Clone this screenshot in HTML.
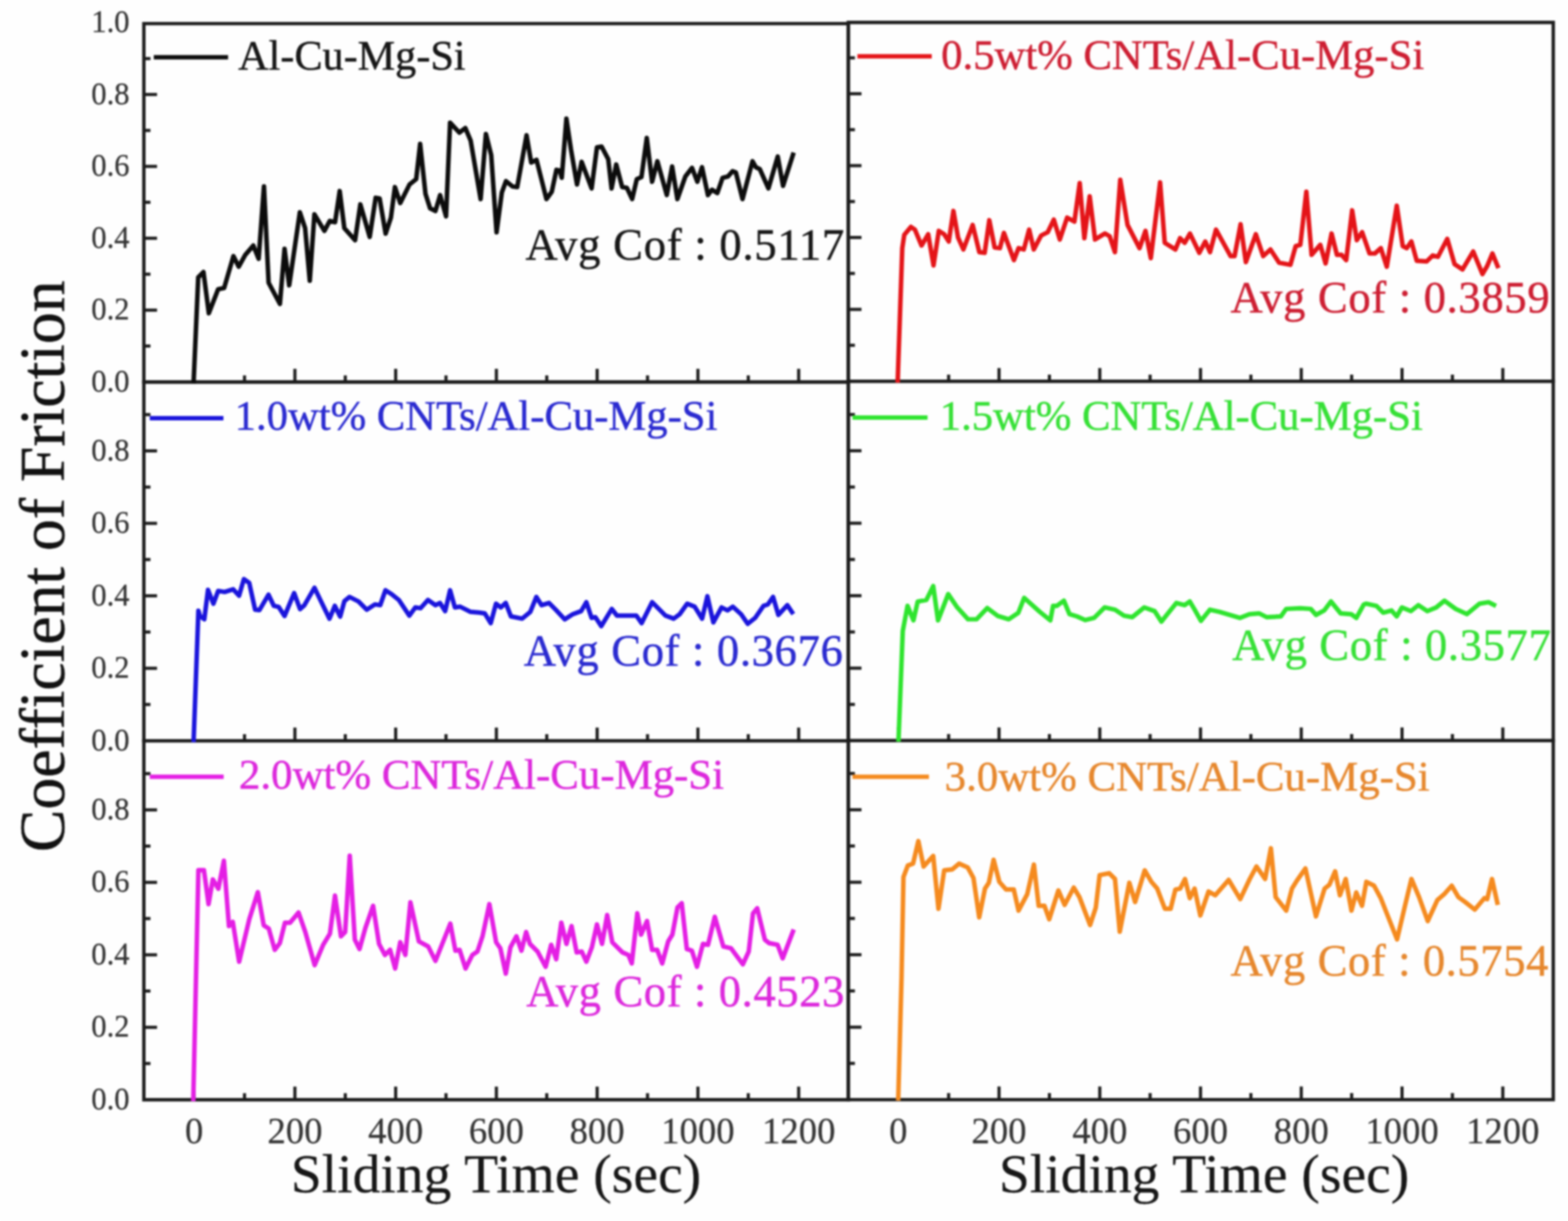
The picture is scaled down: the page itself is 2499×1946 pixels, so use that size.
<!DOCTYPE html><html><head><meta charset="utf-8"><style>html,body{margin:0;padding:0;background:#fff;}svg{display:block;filter:blur(1.5px)}text{font-family:'Liberation Serif','Times New Roman',serif}</style></head><body>
<svg xmlns="http://www.w3.org/2000/svg" width="2499" height="1946" viewBox="0 0 2499 1946">
<rect width="2499" height="1946" fill="#fefefe"/>
<path d="M229.3,37.6 L1352.0,37.6 L1352.0,608.8 L229.3,608.8 Z" fill="none" stroke="#1c1c1c" stroke-width="5.4" stroke-linejoin="miter"/>
<line x1="309.4" y1="608.8" x2="309.4" y2="587.8" stroke="#1c1c1c" stroke-width="5"/>
<line x1="389.7" y1="608.8" x2="389.7" y2="598.3" stroke="#1c1c1c" stroke-width="5"/>
<line x1="470.0" y1="608.8" x2="470.0" y2="587.8" stroke="#1c1c1c" stroke-width="5"/>
<line x1="550.3" y1="608.8" x2="550.3" y2="598.3" stroke="#1c1c1c" stroke-width="5"/>
<line x1="630.6" y1="608.8" x2="630.6" y2="587.8" stroke="#1c1c1c" stroke-width="5"/>
<line x1="710.8" y1="608.8" x2="710.8" y2="598.3" stroke="#1c1c1c" stroke-width="5"/>
<line x1="791.1" y1="608.8" x2="791.1" y2="587.8" stroke="#1c1c1c" stroke-width="5"/>
<line x1="871.4" y1="608.8" x2="871.4" y2="598.3" stroke="#1c1c1c" stroke-width="5"/>
<line x1="951.7" y1="608.8" x2="951.7" y2="587.8" stroke="#1c1c1c" stroke-width="5"/>
<line x1="1032.0" y1="608.8" x2="1032.0" y2="598.3" stroke="#1c1c1c" stroke-width="5"/>
<line x1="1112.3" y1="608.8" x2="1112.3" y2="587.8" stroke="#1c1c1c" stroke-width="5"/>
<line x1="1192.6" y1="608.8" x2="1192.6" y2="598.3" stroke="#1c1c1c" stroke-width="5"/>
<line x1="1272.9" y1="608.8" x2="1272.9" y2="587.8" stroke="#1c1c1c" stroke-width="5"/>
<line x1="229.3" y1="551.5" x2="239.8" y2="551.5" stroke="#1c1c1c" stroke-width="5"/>
<line x1="229.3" y1="494.3" x2="250.3" y2="494.3" stroke="#1c1c1c" stroke-width="5"/>
<line x1="229.3" y1="437.0" x2="239.8" y2="437.0" stroke="#1c1c1c" stroke-width="5"/>
<line x1="229.3" y1="379.7" x2="250.3" y2="379.7" stroke="#1c1c1c" stroke-width="5"/>
<line x1="229.3" y1="322.4" x2="239.8" y2="322.4" stroke="#1c1c1c" stroke-width="5"/>
<line x1="229.3" y1="265.2" x2="250.3" y2="265.2" stroke="#1c1c1c" stroke-width="5"/>
<line x1="229.3" y1="207.9" x2="239.8" y2="207.9" stroke="#1c1c1c" stroke-width="5"/>
<line x1="229.3" y1="150.6" x2="250.3" y2="150.6" stroke="#1c1c1c" stroke-width="5"/>
<line x1="229.3" y1="93.4" x2="239.8" y2="93.4" stroke="#1c1c1c" stroke-width="5"/>
<path d="M1352.0,35.8 L2475.5,35.8 L2475.5,607.6 L1352.0,607.6 Z" fill="none" stroke="#1c1c1c" stroke-width="5.4" stroke-linejoin="miter"/>
<line x1="1431.6" y1="607.6" x2="1431.6" y2="586.6" stroke="#1c1c1c" stroke-width="5"/>
<line x1="1511.9" y1="607.6" x2="1511.9" y2="597.1" stroke="#1c1c1c" stroke-width="5"/>
<line x1="1592.2" y1="607.6" x2="1592.2" y2="586.6" stroke="#1c1c1c" stroke-width="5"/>
<line x1="1672.5" y1="607.6" x2="1672.5" y2="597.1" stroke="#1c1c1c" stroke-width="5"/>
<line x1="1752.8" y1="607.6" x2="1752.8" y2="586.6" stroke="#1c1c1c" stroke-width="5"/>
<line x1="1833.0" y1="607.6" x2="1833.0" y2="597.1" stroke="#1c1c1c" stroke-width="5"/>
<line x1="1913.3" y1="607.6" x2="1913.3" y2="586.6" stroke="#1c1c1c" stroke-width="5"/>
<line x1="1993.6" y1="607.6" x2="1993.6" y2="597.1" stroke="#1c1c1c" stroke-width="5"/>
<line x1="2073.9" y1="607.6" x2="2073.9" y2="586.6" stroke="#1c1c1c" stroke-width="5"/>
<line x1="2154.2" y1="607.6" x2="2154.2" y2="597.1" stroke="#1c1c1c" stroke-width="5"/>
<line x1="2234.5" y1="607.6" x2="2234.5" y2="586.6" stroke="#1c1c1c" stroke-width="5"/>
<line x1="2314.8" y1="607.6" x2="2314.8" y2="597.1" stroke="#1c1c1c" stroke-width="5"/>
<line x1="2395.1" y1="607.6" x2="2395.1" y2="586.6" stroke="#1c1c1c" stroke-width="5"/>
<line x1="1352.0" y1="550.3" x2="1362.5" y2="550.3" stroke="#1c1c1c" stroke-width="5"/>
<line x1="1352.0" y1="493.1" x2="1373.0" y2="493.1" stroke="#1c1c1c" stroke-width="5"/>
<line x1="1352.0" y1="435.8" x2="1362.5" y2="435.8" stroke="#1c1c1c" stroke-width="5"/>
<line x1="1352.0" y1="378.5" x2="1373.0" y2="378.5" stroke="#1c1c1c" stroke-width="5"/>
<line x1="1352.0" y1="321.2" x2="1362.5" y2="321.2" stroke="#1c1c1c" stroke-width="5"/>
<line x1="1352.0" y1="264.0" x2="1373.0" y2="264.0" stroke="#1c1c1c" stroke-width="5"/>
<line x1="1352.0" y1="206.7" x2="1362.5" y2="206.7" stroke="#1c1c1c" stroke-width="5"/>
<line x1="1352.0" y1="149.4" x2="1373.0" y2="149.4" stroke="#1c1c1c" stroke-width="5"/>
<line x1="1352.0" y1="92.2" x2="1362.5" y2="92.2" stroke="#1c1c1c" stroke-width="5"/>
<path d="M229.3,608.8 L1352.0,608.8 L1352.0,1180.6 L229.3,1180.6 Z" fill="none" stroke="#1c1c1c" stroke-width="5.4" stroke-linejoin="miter"/>
<line x1="309.4" y1="1180.6" x2="309.4" y2="1159.6" stroke="#1c1c1c" stroke-width="5"/>
<line x1="389.7" y1="1180.6" x2="389.7" y2="1170.1" stroke="#1c1c1c" stroke-width="5"/>
<line x1="470.0" y1="1180.6" x2="470.0" y2="1159.6" stroke="#1c1c1c" stroke-width="5"/>
<line x1="550.3" y1="1180.6" x2="550.3" y2="1170.1" stroke="#1c1c1c" stroke-width="5"/>
<line x1="630.6" y1="1180.6" x2="630.6" y2="1159.6" stroke="#1c1c1c" stroke-width="5"/>
<line x1="710.8" y1="1180.6" x2="710.8" y2="1170.1" stroke="#1c1c1c" stroke-width="5"/>
<line x1="791.1" y1="1180.6" x2="791.1" y2="1159.6" stroke="#1c1c1c" stroke-width="5"/>
<line x1="871.4" y1="1180.6" x2="871.4" y2="1170.1" stroke="#1c1c1c" stroke-width="5"/>
<line x1="951.7" y1="1180.6" x2="951.7" y2="1159.6" stroke="#1c1c1c" stroke-width="5"/>
<line x1="1032.0" y1="1180.6" x2="1032.0" y2="1170.1" stroke="#1c1c1c" stroke-width="5"/>
<line x1="1112.3" y1="1180.6" x2="1112.3" y2="1159.6" stroke="#1c1c1c" stroke-width="5"/>
<line x1="1192.6" y1="1180.6" x2="1192.6" y2="1170.1" stroke="#1c1c1c" stroke-width="5"/>
<line x1="1272.9" y1="1180.6" x2="1272.9" y2="1159.6" stroke="#1c1c1c" stroke-width="5"/>
<line x1="229.3" y1="1122.8" x2="239.8" y2="1122.8" stroke="#1c1c1c" stroke-width="5"/>
<line x1="229.3" y1="1065.1" x2="250.3" y2="1065.1" stroke="#1c1c1c" stroke-width="5"/>
<line x1="229.3" y1="1007.3" x2="239.8" y2="1007.3" stroke="#1c1c1c" stroke-width="5"/>
<line x1="229.3" y1="949.6" x2="250.3" y2="949.6" stroke="#1c1c1c" stroke-width="5"/>
<line x1="229.3" y1="891.8" x2="239.8" y2="891.8" stroke="#1c1c1c" stroke-width="5"/>
<line x1="229.3" y1="834.1" x2="250.3" y2="834.1" stroke="#1c1c1c" stroke-width="5"/>
<line x1="229.3" y1="776.3" x2="239.8" y2="776.3" stroke="#1c1c1c" stroke-width="5"/>
<line x1="229.3" y1="718.6" x2="250.3" y2="718.6" stroke="#1c1c1c" stroke-width="5"/>
<line x1="229.3" y1="660.8" x2="239.8" y2="660.8" stroke="#1c1c1c" stroke-width="5"/>
<path d="M1352.0,607.6 L2475.5,607.6 L2475.5,1180.4 L1352.0,1180.4 Z" fill="none" stroke="#1c1c1c" stroke-width="5.4" stroke-linejoin="miter"/>
<line x1="1431.6" y1="1180.4" x2="1431.6" y2="1159.4" stroke="#1c1c1c" stroke-width="5"/>
<line x1="1511.9" y1="1180.4" x2="1511.9" y2="1169.9" stroke="#1c1c1c" stroke-width="5"/>
<line x1="1592.2" y1="1180.4" x2="1592.2" y2="1159.4" stroke="#1c1c1c" stroke-width="5"/>
<line x1="1672.5" y1="1180.4" x2="1672.5" y2="1169.9" stroke="#1c1c1c" stroke-width="5"/>
<line x1="1752.8" y1="1180.4" x2="1752.8" y2="1159.4" stroke="#1c1c1c" stroke-width="5"/>
<line x1="1833.0" y1="1180.4" x2="1833.0" y2="1169.9" stroke="#1c1c1c" stroke-width="5"/>
<line x1="1913.3" y1="1180.4" x2="1913.3" y2="1159.4" stroke="#1c1c1c" stroke-width="5"/>
<line x1="1993.6" y1="1180.4" x2="1993.6" y2="1169.9" stroke="#1c1c1c" stroke-width="5"/>
<line x1="2073.9" y1="1180.4" x2="2073.9" y2="1159.4" stroke="#1c1c1c" stroke-width="5"/>
<line x1="2154.2" y1="1180.4" x2="2154.2" y2="1169.9" stroke="#1c1c1c" stroke-width="5"/>
<line x1="2234.5" y1="1180.4" x2="2234.5" y2="1159.4" stroke="#1c1c1c" stroke-width="5"/>
<line x1="2314.8" y1="1180.4" x2="2314.8" y2="1169.9" stroke="#1c1c1c" stroke-width="5"/>
<line x1="2395.1" y1="1180.4" x2="2395.1" y2="1159.4" stroke="#1c1c1c" stroke-width="5"/>
<line x1="1352.0" y1="1122.7" x2="1362.5" y2="1122.7" stroke="#1c1c1c" stroke-width="5"/>
<line x1="1352.0" y1="1064.9" x2="1373.0" y2="1064.9" stroke="#1c1c1c" stroke-width="5"/>
<line x1="1352.0" y1="1007.2" x2="1362.5" y2="1007.2" stroke="#1c1c1c" stroke-width="5"/>
<line x1="1352.0" y1="949.4" x2="1373.0" y2="949.4" stroke="#1c1c1c" stroke-width="5"/>
<line x1="1352.0" y1="891.7" x2="1362.5" y2="891.7" stroke="#1c1c1c" stroke-width="5"/>
<line x1="1352.0" y1="833.9" x2="1373.0" y2="833.9" stroke="#1c1c1c" stroke-width="5"/>
<line x1="1352.0" y1="776.2" x2="1362.5" y2="776.2" stroke="#1c1c1c" stroke-width="5"/>
<line x1="1352.0" y1="718.4" x2="1373.0" y2="718.4" stroke="#1c1c1c" stroke-width="5"/>
<line x1="1352.0" y1="660.7" x2="1362.5" y2="660.7" stroke="#1c1c1c" stroke-width="5"/>
<path d="M229.3,1180.6 L1352.0,1180.6 L1352.0,1752.8 L229.3,1752.8 Z" fill="none" stroke="#1c1c1c" stroke-width="5.4" stroke-linejoin="miter"/>
<line x1="309.4" y1="1752.8" x2="309.4" y2="1731.8" stroke="#1c1c1c" stroke-width="5"/>
<line x1="389.7" y1="1752.8" x2="389.7" y2="1742.3" stroke="#1c1c1c" stroke-width="5"/>
<line x1="470.0" y1="1752.8" x2="470.0" y2="1731.8" stroke="#1c1c1c" stroke-width="5"/>
<line x1="550.3" y1="1752.8" x2="550.3" y2="1742.3" stroke="#1c1c1c" stroke-width="5"/>
<line x1="630.6" y1="1752.8" x2="630.6" y2="1731.8" stroke="#1c1c1c" stroke-width="5"/>
<line x1="710.8" y1="1752.8" x2="710.8" y2="1742.3" stroke="#1c1c1c" stroke-width="5"/>
<line x1="791.1" y1="1752.8" x2="791.1" y2="1731.8" stroke="#1c1c1c" stroke-width="5"/>
<line x1="871.4" y1="1752.8" x2="871.4" y2="1742.3" stroke="#1c1c1c" stroke-width="5"/>
<line x1="951.7" y1="1752.8" x2="951.7" y2="1731.8" stroke="#1c1c1c" stroke-width="5"/>
<line x1="1032.0" y1="1752.8" x2="1032.0" y2="1742.3" stroke="#1c1c1c" stroke-width="5"/>
<line x1="1112.3" y1="1752.8" x2="1112.3" y2="1731.8" stroke="#1c1c1c" stroke-width="5"/>
<line x1="1192.6" y1="1752.8" x2="1192.6" y2="1742.3" stroke="#1c1c1c" stroke-width="5"/>
<line x1="1272.9" y1="1752.8" x2="1272.9" y2="1731.8" stroke="#1c1c1c" stroke-width="5"/>
<line x1="229.3" y1="1695.0" x2="239.8" y2="1695.0" stroke="#1c1c1c" stroke-width="5"/>
<line x1="229.3" y1="1637.3" x2="250.3" y2="1637.3" stroke="#1c1c1c" stroke-width="5"/>
<line x1="229.3" y1="1579.5" x2="239.8" y2="1579.5" stroke="#1c1c1c" stroke-width="5"/>
<line x1="229.3" y1="1521.8" x2="250.3" y2="1521.8" stroke="#1c1c1c" stroke-width="5"/>
<line x1="229.3" y1="1464.0" x2="239.8" y2="1464.0" stroke="#1c1c1c" stroke-width="5"/>
<line x1="229.3" y1="1406.3" x2="250.3" y2="1406.3" stroke="#1c1c1c" stroke-width="5"/>
<line x1="229.3" y1="1348.5" x2="239.8" y2="1348.5" stroke="#1c1c1c" stroke-width="5"/>
<line x1="229.3" y1="1290.8" x2="250.3" y2="1290.8" stroke="#1c1c1c" stroke-width="5"/>
<line x1="229.3" y1="1233.0" x2="239.8" y2="1233.0" stroke="#1c1c1c" stroke-width="5"/>
<path d="M1352.0,1180.4 L2475.5,1180.4 L2475.5,1752.6 L1352.0,1752.6 Z" fill="none" stroke="#1c1c1c" stroke-width="5.4" stroke-linejoin="miter"/>
<line x1="1431.6" y1="1752.6" x2="1431.6" y2="1731.6" stroke="#1c1c1c" stroke-width="5"/>
<line x1="1511.9" y1="1752.6" x2="1511.9" y2="1742.1" stroke="#1c1c1c" stroke-width="5"/>
<line x1="1592.2" y1="1752.6" x2="1592.2" y2="1731.6" stroke="#1c1c1c" stroke-width="5"/>
<line x1="1672.5" y1="1752.6" x2="1672.5" y2="1742.1" stroke="#1c1c1c" stroke-width="5"/>
<line x1="1752.8" y1="1752.6" x2="1752.8" y2="1731.6" stroke="#1c1c1c" stroke-width="5"/>
<line x1="1833.0" y1="1752.6" x2="1833.0" y2="1742.1" stroke="#1c1c1c" stroke-width="5"/>
<line x1="1913.3" y1="1752.6" x2="1913.3" y2="1731.6" stroke="#1c1c1c" stroke-width="5"/>
<line x1="1993.6" y1="1752.6" x2="1993.6" y2="1742.1" stroke="#1c1c1c" stroke-width="5"/>
<line x1="2073.9" y1="1752.6" x2="2073.9" y2="1731.6" stroke="#1c1c1c" stroke-width="5"/>
<line x1="2154.2" y1="1752.6" x2="2154.2" y2="1742.1" stroke="#1c1c1c" stroke-width="5"/>
<line x1="2234.5" y1="1752.6" x2="2234.5" y2="1731.6" stroke="#1c1c1c" stroke-width="5"/>
<line x1="2314.8" y1="1752.6" x2="2314.8" y2="1742.1" stroke="#1c1c1c" stroke-width="5"/>
<line x1="2395.1" y1="1752.6" x2="2395.1" y2="1731.6" stroke="#1c1c1c" stroke-width="5"/>
<line x1="1352.0" y1="1694.8" x2="1362.5" y2="1694.8" stroke="#1c1c1c" stroke-width="5"/>
<line x1="1352.0" y1="1637.1" x2="1373.0" y2="1637.1" stroke="#1c1c1c" stroke-width="5"/>
<line x1="1352.0" y1="1579.3" x2="1362.5" y2="1579.3" stroke="#1c1c1c" stroke-width="5"/>
<line x1="1352.0" y1="1521.6" x2="1373.0" y2="1521.6" stroke="#1c1c1c" stroke-width="5"/>
<line x1="1352.0" y1="1463.8" x2="1362.5" y2="1463.8" stroke="#1c1c1c" stroke-width="5"/>
<line x1="1352.0" y1="1406.1" x2="1373.0" y2="1406.1" stroke="#1c1c1c" stroke-width="5"/>
<line x1="1352.0" y1="1348.3" x2="1362.5" y2="1348.3" stroke="#1c1c1c" stroke-width="5"/>
<line x1="1352.0" y1="1290.6" x2="1373.0" y2="1290.6" stroke="#1c1c1c" stroke-width="5"/>
<line x1="1352.0" y1="1232.8" x2="1362.5" y2="1232.8" stroke="#1c1c1c" stroke-width="5"/>
<path d="M308.5,611.0 L315.9,442.1 L324.3,433.6 L332.8,499.3 L347.6,461.1 L357.2,459.0 L372.0,408.2 L380.5,425.1 L391.0,406.1 L403.7,391.3 L412.2,412.4 L420.7,297.1 L428.1,450.6 L446.1,484.4 L453.5,396.6 L460.9,454.8 L477.9,338.3 L486.3,363.7 L493.7,447.4 L501.1,341.5 L517.0,368.0 L525.5,352.1 L534.0,354.2 L541.4,304.5 L548.8,363.7 L565.9,382.9 L574.3,325.7 L589.2,377.6 L598.7,315.2 L605.0,316.2 L614.6,372.3 L623.0,346.9 L629.4,298.2 L637.9,323.6 L652.7,294.0 L663.3,285.5 L669.6,229.4 L678.1,308.8 L685.5,332.1 L694.0,336.3 L701.4,310.9 L710.9,344.8 L717.3,195.5 L732.1,211.4 L741.6,204.0 L750.1,224.1 L766.0,317.3 L774.4,213.5 L782.9,247.4 L791.4,370.2 L799.8,306.7 L806.4,288.7 L816.9,297.2 L824.3,298.2 L839.2,215.6 L846.6,259.0 L855.1,254.8 L870.9,317.3 L879.4,305.6 L886.8,270.7 L892.1,271.7 L895.3,283.4 L902.7,189.2 L910.1,238.9 L919.6,294.0 L927.0,258.0 L942.9,300.3 L951.4,234.7 L958.8,233.6 L969.4,253.7 L974.7,300.3 L982.1,262.2 L991.6,298.2 L999.0,299.3 L1007.5,317.3 L1014.9,285.5 L1022.3,282.3 L1030.8,219.9 L1039.3,289.7 L1047.7,256.9 L1062.7,310.9 L1071.2,265.4 L1079.6,317.3 L1092.3,281.3 L1102.9,267.5 L1111.4,289.7 L1118.8,266.5 L1128.3,310.9 L1134.7,302.4 L1143.2,307.7 L1151.6,283.4 L1160.1,281.3 L1167.5,272.8 L1172.8,274.9 L1183.4,317.3 L1199.3,256.9 L1204.6,266.5 L1210.9,269.6 L1224.7,300.3 L1239.5,249.5 L1248.0,296.1 L1264.9,243.2" fill="none" stroke="#0c0c0c" stroke-width="7.2" stroke-linejoin="round" stroke-linecap="butt"/>
<path d="M1430.6,609.8 L1438.0,395.5 L1441.2,374.3 L1451.8,361.6 L1458.1,365.9 L1468.7,391.3 L1479.3,373.3 L1487.8,423.0 L1496.2,368.0 L1504.7,373.3 L1512.1,384.9 L1519.5,336.2 L1526.9,378.6 L1535.4,397.6 L1550.2,358.5 L1560.8,401.9 L1569.3,402.9 L1576.7,351.0 L1585.2,394.5 L1593.6,395.5 L1600.0,371.2 L1615.9,414.6 L1623.3,395.5 L1631.7,397.6 L1640.2,365.9 L1647.6,397.6 L1659.3,375.4 L1669.8,370.1 L1679.5,350.0 L1689.1,381.7 L1700.7,346.8 L1712.3,353.2 L1720.8,291.8 L1728.2,379.6 L1736.7,312.9 L1745.2,381.7 L1761.0,372.2 L1768.5,376.5 L1776.9,401.9 L1785.4,286.5 L1797.0,358.5 L1816.1,395.5 L1825.6,368.0 L1834.1,411.4 L1848.9,290.7 L1856.3,387.0 L1873.3,397.6 L1880.7,379.6 L1888.1,387.0 L1896.5,372.2 L1911.4,402.9 L1920.9,384.9 L1928.5,401.9 L1938.0,365.9 L1961.3,408.2 L1967.6,408.2 L1977.2,357.4 L1985.6,417.7 L2001.5,373.3 L2013.2,408.2 L2024.8,397.6 L2038.6,418.8 L2056.6,422.0 L2065.0,392.3 L2072.4,390.2 L2082.0,305.5 L2090.4,406.1 L2104.2,390.2 L2112.7,419.9 L2122.2,372.2 L2130.7,406.1 L2138.1,406.1 L2145.5,414.6 L2155.0,335.2 L2162.4,382.8 L2170.9,370.1 L2182.7,404.0 L2191.2,404.0 L2200.7,395.5 L2210.2,425.1 L2226.1,327.8 L2235.6,392.3 L2242.0,395.5 L2249.4,384.9 L2257.9,415.6 L2273.7,416.7 L2283.3,407.2 L2291.7,409.3 L2306.6,380.7 L2318.2,420.9 L2330.9,429.4 L2347.9,400.8 L2362.7,436.8 L2370.1,424.1 L2378.6,404.0 L2388.1,427.3" fill="none" stroke="#e41418" stroke-width="7.2" stroke-linejoin="round" stroke-linecap="butt"/>
<path d="M308.5,1183.0 L316.2,973.3 L318.8,981.8 L325.6,987.0 L331.5,940.1 L340.1,962.2 L347.7,941.8 L358.0,943.5 L371.6,939.2 L381.0,949.4 L388.7,923.0 L397.2,929.0 L406.6,971.6 L413.4,972.5 L427.9,947.7 L436.4,965.6 L444.1,967.3 L453.5,981.8 L468.8,945.2 L478.2,970.8 L485.0,964.8 L501.2,936.7 L511.4,958.0 L525.1,986.1 L533.6,965.6 L542.1,982.7 L548.9,958.0 L557.1,951.4 L571.4,958.6 L584.5,971.7 L597.6,963.3 L606.0,964.5 L614.3,940.7 L623.8,946.7 L635.7,956.2 L652.4,981.2 L661.9,968.1 L670.2,969.3 L682.1,956.2 L694.0,964.5 L701.2,961.0 L709.5,974.0 L717.3,940.7 L725.0,968.1 L733.3,966.9 L750.0,975.2 L764.3,976.4 L772.6,977.6 L782.1,993.1 L790.5,962.1 L798.2,968.1 L806.0,961.0 L814.3,982.4 L832.1,986.0 L845.2,975.2 L854.8,951.4 L863.1,964.5 L875.0,961.0 L885.7,971.7 L900.0,987.1 L913.1,978.8 L926.2,974.0 L934.5,959.8 L942.9,984.8 L948.8,983.6 L958.3,997.9 L975.0,970.5 L983.3,981.2 L1014.3,981.2 L1022.6,993.1 L1039.3,959.8 L1060.7,981.2 L1073.8,986.0 L1083.3,978.8 L1095.2,962.1 L1107.1,966.9 L1119.0,986.0 L1127.4,950.2 L1136.9,991.9 L1150.0,968.1 L1159.5,972.9 L1167.9,966.9 L1181.0,978.8 L1191.7,994.3 L1203.6,984.8 L1216.7,965.7 L1223.8,963.3 L1232.1,951.4 L1240.5,980.0 L1254.8,964.5 L1264.3,978.8" fill="none" stroke="#1a14dc" stroke-width="7.2" stroke-linejoin="round" stroke-linecap="butt"/>
<path d="M1431.9,1182.1 L1438.8,1005.7 L1446.4,965.6 L1455.8,988.7 L1462.6,958.8 L1476.3,956.3 L1487.3,934.1 L1495.0,988.7 L1511.2,946.9 L1525.7,968.2 L1542.8,987.0 L1556.4,987.0 L1573.5,969.1 L1590.5,981.8 L1607.6,987.0 L1622.9,976.7 L1632.3,952.9 L1657.0,975.0 L1674.0,988.7 L1678.3,965.7 L1684.3,965.7 L1695.6,957.4 L1704.5,978.8 L1716.4,982.4 L1729.5,988.3 L1743.8,984.8 L1760.5,968.1 L1777.1,971.7 L1791.4,981.2 L1804.5,983.6 L1823.6,968.1 L1840.2,974.0 L1851.0,990.7 L1860.5,978.8 L1874.8,961.0 L1887.9,964.5 L1896.2,958.6 L1903.3,970.5 L1914.0,989.5 L1928.3,971.7 L1943.8,975.2 L1976.0,984.8 L1991.4,978.8 L2006.9,977.6 L2018.8,983.6 L2041.4,982.4 L2049.8,970.5 L2072.4,969.3 L2089.0,970.5 L2097.4,980.0 L2110.5,972.9 L2121.2,958.6 L2136.7,977.6 L2153.3,978.8 L2161.7,984.8 L2173.6,963.3 L2177.1,962.1 L2193.8,965.7 L2204.5,976.4 L2217.6,972.9 L2226.0,982.4 L2234.3,968.1 L2248.6,974.0 L2260.5,964.5 L2274.8,974.0 L2289.0,968.1 L2302.1,957.4 L2320.0,970.5 L2337.9,978.8 L2358.1,962.1 L2372.4,959.8 L2384.3,965.7" fill="none" stroke="#2ee42e" stroke-width="7.2" stroke-linejoin="round" stroke-linecap="butt"/>
<path d="M308.0,1755.1 L316.2,1386.8 L325.0,1386.8 L332.4,1440.9 L339.2,1401.7 L348.0,1416.5 L356.8,1371.9 L364.9,1476.0 L371.0,1469.3 L381.1,1532.8 L397.3,1465.2 L410.9,1421.9 L420.3,1474.7 L428.4,1480.1 L437.9,1513.9 L446.0,1503.1 L454.1,1470.6 L462.2,1470.6 L475.8,1454.4 L486.6,1485.5 L501.5,1538.2 L515.0,1505.8 L525.8,1488.2 L533.9,1427.4 L543.4,1492.3 L550.1,1485.5 L557.4,1363.8 L565.5,1497.7 L573.0,1512.5 L582.4,1478.7 L594.6,1443.6 L604.1,1504.4 L613.5,1522.0 L621.7,1513.9 L629.8,1543.6 L637.9,1501.7 L646.0,1522.0 L654.1,1438.2 L667.6,1500.4 L682.5,1508.5 L694.0,1531.5 L717.7,1472.0 L725.8,1515.2 L732.5,1513.9 L742.0,1543.6 L752.8,1522.0 L760.9,1516.6 L769.0,1492.2 L779.9,1440.9 L790.7,1501.7 L797.4,1511.2 L806.1,1551.7 L813.5,1509.8 L823.0,1492.2 L831.1,1515.2 L838.5,1485.5 L844.6,1504.4 L856.8,1516.6 L869.6,1540.9 L878.4,1505.8 L886.5,1528.8 L894.6,1470.6 L902.8,1504.4 L910.9,1476.0 L919.0,1517.9 L927.1,1516.6 L934.5,1532.8 L943.3,1509.8 L951.4,1473.3 L959.5,1504.4 L967.7,1458.4 L975.8,1501.7 L992.0,1517.9 L1001.5,1522.0 L1006.9,1535.5 L1015.7,1455.7 L1021.7,1489.5 L1031.2,1467.9 L1039.3,1513.9 L1047.4,1513.9 L1055.4,1535.5 L1064.9,1500.4 L1071.6,1489.5 L1079.7,1446.3 L1086.5,1439.5 L1094.6,1512.5 L1102.7,1515.2 L1110.8,1540.9 L1120.3,1504.4 L1128.4,1505.8 L1139.2,1461.2 L1152.8,1508.5 L1164.9,1511.2 L1183.9,1536.9 L1193.3,1516.6 L1200.1,1455.7 L1206.8,1447.6 L1219.0,1497.7 L1225.8,1503.1 L1239.3,1505.8 L1247.4,1527.4 L1265.0,1481.4" fill="none" stroke="#e41ee4" stroke-width="7.2" stroke-linejoin="round" stroke-linecap="butt"/>
<path d="M1431.5,1754.1 L1436.8,1560.0 L1439.9,1397.8 L1446.8,1379.5 L1455.2,1376.4 L1463.6,1340.5 L1472.0,1381.0 L1487.3,1364.2 L1495.7,1448.3 L1504.8,1387.1 L1517.8,1385.6 L1528.5,1376.4 L1542.3,1382.5 L1551.5,1399.4 L1560.6,1462.0 L1569.8,1416.2 L1575.9,1407.0 L1583.6,1370.3 L1592.7,1405.5 L1603.4,1417.7 L1615.7,1417.7 L1623.3,1451.3 L1637.1,1425.3 L1647.8,1378.0 L1655.4,1443.7 L1664.6,1443.7 L1672.2,1465.1 L1686.8,1419.2 L1696.8,1442.2 L1711.3,1414.6 L1720.4,1429.9 L1737.3,1474.3 L1746.4,1446.7 L1752.5,1394.8 L1767.8,1391.7 L1777.0,1400.9 L1784.6,1485.0 L1799.9,1407.0 L1809.1,1437.6 L1824.4,1387.1 L1835.1,1405.5 L1844.3,1416.2 L1856.5,1448.3 L1865.7,1448.3 L1873.3,1417.7 L1880.9,1416.2 L1888.6,1400.9 L1896.2,1431.5 L1903.9,1416.2 L1913.0,1459.0 L1926.1,1420.8 L1936.8,1426.9 L1958.2,1402.4 L1976.6,1433.0 L1991.8,1400.9 L2002.5,1381.0 L2016.3,1400.9 L2025.5,1352.0 L2033.1,1429.9 L2049.9,1451.3 L2059.1,1416.2 L2066.7,1403.9 L2080.5,1384.1 L2097.3,1460.5 L2111.1,1416.2 L2118.7,1410.1 L2127.9,1388.7 L2135.5,1426.9 L2144.7,1400.9 L2153.9,1451.3 L2161.5,1422.3 L2170.7,1443.7 L2177.6,1405.5 L2189.9,1411.6 L2200.6,1431.5 L2226.6,1497.2 L2238.8,1445.2 L2249.5,1400.9 L2261.7,1429.9 L2275.5,1468.1 L2290.8,1434.5 L2301.5,1425.3 L2313.7,1411.6 L2324.4,1429.9 L2335.1,1437.6 L2350.4,1449.8 L2365.7,1431.5 L2370.2,1433.0 L2377.9,1400.9 L2387.1,1442.2" fill="none" stroke="#f58a1e" stroke-width="7.2" stroke-linejoin="round" stroke-linecap="butt"/>
<text x="206.5" y="623.7" font-size="51.5" fill="#333333" stroke="#333333" stroke-width="0.4" text-anchor="end" textLength="61" lengthAdjust="spacingAndGlyphs">0.0</text>
<text x="206.5" y="509.2" font-size="51.5" fill="#333333" stroke="#333333" stroke-width="0.4" text-anchor="end" textLength="61" lengthAdjust="spacingAndGlyphs">0.2</text>
<text x="206.5" y="394.6" font-size="51.5" fill="#333333" stroke="#333333" stroke-width="0.4" text-anchor="end" textLength="61" lengthAdjust="spacingAndGlyphs">0.4</text>
<text x="206.5" y="280.1" font-size="51.5" fill="#333333" stroke="#333333" stroke-width="0.4" text-anchor="end" textLength="61" lengthAdjust="spacingAndGlyphs">0.6</text>
<text x="206.5" y="165.5" font-size="51.5" fill="#333333" stroke="#333333" stroke-width="0.4" text-anchor="end" textLength="61" lengthAdjust="spacingAndGlyphs">0.8</text>
<text x="206.5" y="51.0" font-size="51.5" fill="#333333" stroke="#333333" stroke-width="0.4" text-anchor="end" textLength="61" lengthAdjust="spacingAndGlyphs">1.0</text>
<text x="206.5" y="1195.5" font-size="51.5" fill="#333333" stroke="#333333" stroke-width="0.4" text-anchor="end" textLength="61" lengthAdjust="spacingAndGlyphs">0.0</text>
<text x="206.5" y="1080.0" font-size="51.5" fill="#333333" stroke="#333333" stroke-width="0.4" text-anchor="end" textLength="61" lengthAdjust="spacingAndGlyphs">0.2</text>
<text x="206.5" y="964.5" font-size="51.5" fill="#333333" stroke="#333333" stroke-width="0.4" text-anchor="end" textLength="61" lengthAdjust="spacingAndGlyphs">0.4</text>
<text x="206.5" y="849.0" font-size="51.5" fill="#333333" stroke="#333333" stroke-width="0.4" text-anchor="end" textLength="61" lengthAdjust="spacingAndGlyphs">0.6</text>
<text x="206.5" y="733.5" font-size="51.5" fill="#333333" stroke="#333333" stroke-width="0.4" text-anchor="end" textLength="61" lengthAdjust="spacingAndGlyphs">0.8</text>
<text x="206.5" y="1767.7" font-size="51.5" fill="#333333" stroke="#333333" stroke-width="0.4" text-anchor="end" textLength="61" lengthAdjust="spacingAndGlyphs">0.0</text>
<text x="206.5" y="1652.2" font-size="51.5" fill="#333333" stroke="#333333" stroke-width="0.4" text-anchor="end" textLength="61" lengthAdjust="spacingAndGlyphs">0.2</text>
<text x="206.5" y="1536.7" font-size="51.5" fill="#333333" stroke="#333333" stroke-width="0.4" text-anchor="end" textLength="61" lengthAdjust="spacingAndGlyphs">0.4</text>
<text x="206.5" y="1421.2" font-size="51.5" fill="#333333" stroke="#333333" stroke-width="0.4" text-anchor="end" textLength="61" lengthAdjust="spacingAndGlyphs">0.6</text>
<text x="206.5" y="1305.7" font-size="51.5" fill="#333333" stroke="#333333" stroke-width="0.4" text-anchor="end" textLength="61" lengthAdjust="spacingAndGlyphs">0.8</text>
<text x="309.4" y="1821.5" font-size="58.5" fill="#333333" stroke="#333333" stroke-width="0.3" text-anchor="middle">0</text>
<text x="1431.6" y="1821.5" font-size="58.5" fill="#333333" stroke="#333333" stroke-width="0.3" text-anchor="middle">0</text>
<text x="470.0" y="1821.5" font-size="58.5" fill="#333333" stroke="#333333" stroke-width="0.3" text-anchor="middle">200</text>
<text x="1592.2" y="1821.5" font-size="58.5" fill="#333333" stroke="#333333" stroke-width="0.3" text-anchor="middle">200</text>
<text x="630.6" y="1821.5" font-size="58.5" fill="#333333" stroke="#333333" stroke-width="0.3" text-anchor="middle">400</text>
<text x="1752.8" y="1821.5" font-size="58.5" fill="#333333" stroke="#333333" stroke-width="0.3" text-anchor="middle">400</text>
<text x="791.1" y="1821.5" font-size="58.5" fill="#333333" stroke="#333333" stroke-width="0.3" text-anchor="middle">600</text>
<text x="1913.3" y="1821.5" font-size="58.5" fill="#333333" stroke="#333333" stroke-width="0.3" text-anchor="middle">600</text>
<text x="951.7" y="1821.5" font-size="58.5" fill="#333333" stroke="#333333" stroke-width="0.3" text-anchor="middle">800</text>
<text x="2073.9" y="1821.5" font-size="58.5" fill="#333333" stroke="#333333" stroke-width="0.3" text-anchor="middle">800</text>
<text x="1112.3" y="1821.5" font-size="58.5" fill="#333333" stroke="#333333" stroke-width="0.3" text-anchor="middle">1000</text>
<text x="2234.5" y="1821.5" font-size="58.5" fill="#333333" stroke="#333333" stroke-width="0.3" text-anchor="middle">1000</text>
<text x="1272.9" y="1821.5" font-size="58.5" fill="#333333" stroke="#333333" stroke-width="0.3" text-anchor="middle">1200</text>
<text x="2395.1" y="1821.5" font-size="58.5" fill="#333333" stroke="#333333" stroke-width="0.3" text-anchor="middle">1200</text>
<text x="463.5" y="1899.5" font-size="87" fill="#161616" stroke="#161616" stroke-width="0.3" textLength="654" lengthAdjust="spacingAndGlyphs">Sliding Time (sec)</text>
<text x="1592" y="1899.5" font-size="87" fill="#161616" stroke="#161616" stroke-width="0.3" textLength="654" lengthAdjust="spacingAndGlyphs">Sliding Time (sec)</text>
<text transform="translate(101.5,1358) rotate(-90)" x="0" y="0" font-size="101.5" fill="#111" stroke="#111" stroke-width="0.7" textLength="911" lengthAdjust="spacingAndGlyphs">Coefficient of Friction</text>
<line x1="245.1" y1="91.3" x2="363.5" y2="91.3" stroke="#0c0c0c" stroke-width="7"/>
<text x="379.5" y="110.9" font-size="68" fill="#161616" stroke="#161616" stroke-width="0.7" textLength="362.5" lengthAdjust="spacingAndGlyphs">Al-Cu-Mg-Si</text>
<line x1="1366.5" y1="89.8" x2="1485.0" y2="89.8" stroke="#e41418" stroke-width="7"/>
<text x="1500.0" y="110.2" font-size="68" fill="#cd1e32" stroke="#cd1e32" stroke-width="0.7" textLength="770.0" lengthAdjust="spacingAndGlyphs">0.5wt% CNTs/Al-Cu-Mg-Si</text>
<line x1="238.7" y1="666.5" x2="356.1" y2="666.5" stroke="#1a14dc" stroke-width="7"/>
<text x="374.0" y="685.2" font-size="68" fill="#2a2ad0" stroke="#2a2ad0" stroke-width="0.7" textLength="769.3" lengthAdjust="spacingAndGlyphs">1.0wt% CNTs/Al-Cu-Mg-Si</text>
<line x1="1358.7" y1="665.5" x2="1478.3" y2="665.5" stroke="#2ee42e" stroke-width="7"/>
<text x="1497.8" y="685.0" font-size="68" fill="#36e036" stroke="#36e036" stroke-width="0.7" textLength="769.8" lengthAdjust="spacingAndGlyphs">1.5wt% CNTs/Al-Cu-Mg-Si</text>
<line x1="238.7" y1="1238.0" x2="356.5" y2="1238.0" stroke="#e41ee4" stroke-width="7"/>
<text x="380.8" y="1257.4" font-size="68" fill="#dc28dc" stroke="#dc28dc" stroke-width="0.7" textLength="773.3" lengthAdjust="spacingAndGlyphs">2.0wt% CNTs/Al-Cu-Mg-Si</text>
<line x1="1358.7" y1="1238.0" x2="1480.5" y2="1238.0" stroke="#f58a1e" stroke-width="7"/>
<text x="1505.6" y="1259.6" font-size="68" fill="#e6872d" stroke="#e6872d" stroke-width="0.7" textLength="772.9" lengthAdjust="spacingAndGlyphs">3.0wt% CNTs/Al-Cu-Mg-Si</text>
<text x="837.5" y="414.2" font-size="71" fill="#161616" stroke="#161616" stroke-width="0.7" textLength="508.0" lengthAdjust="spacing">Avg Cof : 0.5117</text>
<text x="1961.3" y="498.0" font-size="71" fill="#cd1e32" stroke="#cd1e32" stroke-width="0.7" textLength="508.4" lengthAdjust="spacing">Avg Cof : 0.3859</text>
<text x="835.0" y="1060.5" font-size="71" fill="#2a2ad0" stroke="#2a2ad0" stroke-width="0.7" textLength="508.3" lengthAdjust="spacing">Avg Cof : 0.3676</text>
<text x="1963.7" y="1051.7" font-size="71" fill="#36e036" stroke="#36e036" stroke-width="0.7" textLength="508.0" lengthAdjust="spacing">Avg Cof : 0.3577</text>
<text x="838.8" y="1604.0" font-size="71" fill="#dc28dc" stroke="#dc28dc" stroke-width="0.7" textLength="507.0" lengthAdjust="spacing">Avg Cof : 0.4523</text>
<text x="1961.3" y="1555.4" font-size="71" fill="#e6872d" stroke="#e6872d" stroke-width="0.7" textLength="506.5" lengthAdjust="spacing">Avg Cof : 0.5754</text>
</svg></body></html>
